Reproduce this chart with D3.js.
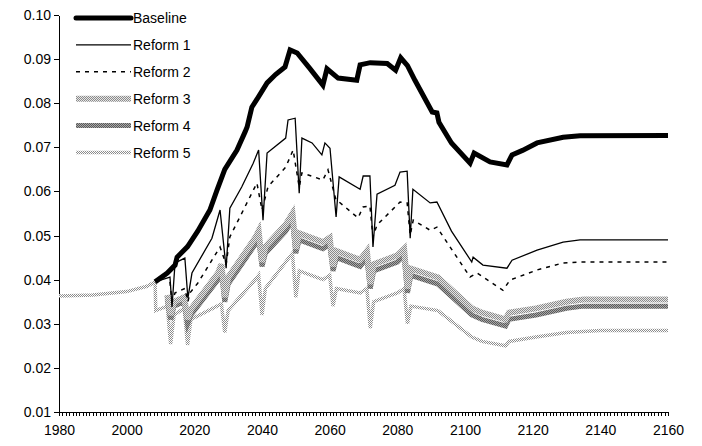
<!DOCTYPE html>
<html><head><meta charset="utf-8">
<script src="https://cdn.jsdelivr.net/npm/d3@7"></script>
<style>body{margin:0;background:#fff}text{font-family:"Liberation Sans",Arial,sans-serif}</style>
</head><body><svg id="c" width="702" height="446"></svg>
<script>
const seriesNames = ["Baseline","Reform 1","Reform 2","Reform 3","Reform 4","Reform 5"];
const xTicks = [1980,2000,2020,2040,2060,2080,2100,2120,2140,2160];
const yTicks = [0.01,0.02,0.03,0.04,0.05,0.06,0.07,0.08,0.09,0.10];
const baseline = [[2008.4,.0395],[2012,.0415],[2014.3,.0433],[2014.9,.0451],[2018,.0475],[2021,.051],[2024.6,.0558],[2026.7,.0603],[2029,.065],[2032.6,.0694],[2035,.0735],[2035.6,.0746],[2037,.0791],[2039,.0815],[2041.5,.0846],[2044,.0865],[2046.8,.0882],[2048.3,.0921],[2050.4,.0914],[2054,.088],[2058,.0841],[2059.2,.0878],[2062.5,.0857],[2068,.0852],[2069,.0887],[2072,.0892],[2077,.089],[2079.5,.0875],[2081,.0903],[2083,.0885],[2085.2,.0852],[2090.3,.078],[2091.7,.0778],[2092.3,.0757],[2096,.071],[2101.5,.0664],[2102.7,.0687],[2107.4,.0667],[2112.4,.066],[2113.9,.0683],[2117,.0693],[2121.3,.071],[2129,.0723],[2134,.0726],[2160,.0727]];
const reform1 = [[2008.4,.0395],[2012.8,.0406],[2013.4,.0338],[2014.3,.0438],[2017.2,.0449],[2018.1,.0358],[2019.3,.0415],[2025.2,.0494],[2027.6,.0558],[2029.4,.0426],[2030.5,.0562],[2034,.061],[2037.4,.0664],[2039,.0694],[2040.3,.0535],[2041.5,.0687],[2047,.0721],[2047.7,.0762],[2049.8,.0766],[2051,.0596],[2051.8,.0721],[2054.8,.071],[2057.7,.0683],[2058.6,.071],[2060.1,.0698],[2061.9,.0542],[2062.8,.0633],[2069,.0605],[2069.9,.0635],[2071.9,.0635],[2072.8,.0474],[2074,.0594],[2079.3,.0614],[2080.8,.0644],[2082.9,.0646],[2083.8,.0494],[2084.6,.0605],[2089.7,.0574],[2091.7,.0576],[2096,.051],[2102,.044],[2102.4,.0451],[2105.3,.0433],[2112.4,.0426],[2113.9,.0444],[2121.3,.0467],[2129,.0485],[2134,.049],[2160,.049]];
const reform2 = [[2012.8,.0395],[2013.4,.035],[2014.3,.037],[2017.2,.038],[2018.1,.035],[2018.7,.037],[2021,.0392],[2027.6,.0474],[2029.4,.0435],[2030.5,.0497],[2038.5,.0619],[2040,.0558],[2041.8,.0611],[2047,.0655],[2049.2,.0694],[2051,.061],[2051.8,.0642],[2058,.0626],[2059.5,.0649],[2061.9,.058],[2062.5,.0578],[2068.4,.054],[2069.9,.0565],[2071.9,.0567],[2072.8,.0497],[2074,.0524],[2080.8,.0576],[2082.9,.0574],[2083.8,.0501],[2084.7,.0535],[2089.7,.0512],[2091.7,.0519],[2101.5,.0406],[2103.6,.0415],[2111.2,.0376],[2113.3,.0399],[2121.3,.0422],[2129,.0438],[2134,.044],[2160,.044]];
const reform4 = [[2012,.0355],[2013,.031],[2014,.034],[2017,.035],[2018,.030],[2019,.032],[2027,.040],[2028,.042],[2029,.035],[2030,.039],[2038,.048],[2039,.0495],[2040,.043],[2041,.046],[2047,.051],[2049,.0535],[2050,.046],[2051,.049],[2058,.047],[2060,.048],[2061,.042],[2062,.045],[2069,.043],[2071,.045],[2072,.038],[2073,.042],[2080,.044],[2082,.0455],[2083,.037],[2084,.041],[2092,.039],[2102,.032],[2105,.031],[2112,.0295],[2113,.031],[2121,.032],[2130,.0335],[2135,.034],[2160,.034]];
const reform3 = [[2012,.0365],[2013,.032],[2014,.035],[2017,.036],[2018,.031],[2019,.0333],[2027,.0415],[2028,.0435],[2029,.036],[2030,.0405],[2038,.0495],[2039,.051],[2040,.044],[2041,.0475],[2047,.0525],[2049,.055],[2050,.047],[2051,.0505],[2058,.0485],[2060,.0495],[2061,.043],[2062,.0465],[2069,.0445],[2071,.0465],[2072,.039],[2073,.0435],[2080,.0455],[2082,.047],[2083,.038],[2084,.0425],[2092,.0405],[2102,.0335],[2105,.0325],[2112,.031],[2113,.0325],[2121,.0335],[2130,.035],[2135,.0355],[2160,.0355]];
const reform5 = [[1980,.0363],[1990,.0365],[2000,.0373],[2006,.0385],[2008.4,.0395],[2008.6,.033],[2012,.034],[2013,.0254],[2014,.032],[2017,.0335],[2018,.0252],[2019,.031],[2028,.0345],[2029,.028],[2030,.033],[2038,.040],[2039,.041],[2040,.032],[2041,.038],[2047,.044],[2049,.046],[2050,.036],[2051,.042],[2058,.040],[2060,.041],[2061,.034],[2062,.038],[2069,.037],[2071,.038],[2072,.029],[2073,.035],[2080,.037],[2082,.038],[2083,.030],[2084,.034],[2092,.033],[2102,.027],[2105,.026],[2112,.025],[2113,.026],[2121,.027],[2130,.028],[2140,.0285],[2160,.0285]];
const allData = [baseline,reform1,reform2,reform3,reform4,reform5];

const svg = d3.select("#c");
const x = d3.scaleLinear().domain([1980,2160]).range([59,668]);
const y = d3.scaleLinear().domain([0.01,0.10]).range([412,15]);

const defs = svg.append("defs");
function pat(id, bg, fg, size){
  const p = defs.append("pattern").attr("id",id).attr("width",size*2).attr("height",size*2).attr("patternUnits","userSpaceOnUse");
  p.append("rect").attr("width",size*2).attr("height",size*2).attr("fill",bg);
  p.append("rect").attr("width",size).attr("height",size).attr("fill",fg);
  p.append("rect").attr("x",size).attr("y",size).attr("width",size).attr("height",size).attr("fill",fg);
}
pat("p3","#e6e6e6","#8a8a8a",1);
pat("p4","#a8a8a8","#5a5a5a",1);
pat("p5","#ffffff","#8c8c8c",1);

const styles = [
  {stroke:"#000",w:5},
  {stroke:"#000",w:1.3},
  {stroke:"#000",w:1.5,dash:"4,5"},
  {stroke:"url(#p3)",w:6},
  {stroke:"url(#p4)",w:5},
  {stroke:"url(#p5)",w:3.5}
];

// axes
const yAxis = svg.append("g").attr("transform","translate(59,0)")
  .call(d3.axisLeft(y).tickValues(yTicks).tickFormat(d3.format(".2f")).tickSize(5).tickSizeOuter(0));
const xAxis = svg.append("g").attr("transform","translate(0,412)")
  .call(d3.axisBottom(x).tickValues(d3.range(1980,2161,1)).tickFormat(d=>xTicks.includes(d)?d:"").tickSize(4).tickSizeOuter(0));
[yAxis,xAxis].forEach(g=>{g.selectAll("path,line").attr("stroke","#000").attr("stroke-width",1).attr("shape-rendering","crispEdges");
  g.selectAll("text").attr("fill","#000").style("font-size","14px").style("font-family","Liberation Sans, Arial");});
yAxis.selectAll("text").attr("x",-8);
xAxis.selectAll("text").attr("y",13);

const line = d3.line().x(d=>x(d[0])).y(d=>y(d[1]));
const order=[5,4,3,2,1,0];
order.forEach(i=>{
  const s=styles[i];
  svg.append("path").datum(allData[i]).attr("d",line).attr("fill","none")
    .attr("stroke",s.stroke).attr("stroke-width",s.w).attr("stroke-linejoin","miter").attr("stroke-dasharray",s.dash||null);
});

// legend
seriesNames.forEach((n,i)=>{
  const yy = 18 + i*26.9;
  const s = styles[i];
  svg.append("line").attr("x1",76).attr("x2",131).attr("y1",yy).attr("y2",yy)
    .attr("stroke",s.stroke).attr("stroke-width",s.w).attr("stroke-dasharray",s.dash||null)
    .attr("stroke-linecap",i===0?"round":"butt");
  svg.append("text").attr("x",133).attr("y",yy+5).text(n).style("font-size","14px").attr("fill","#000");
});
</script></body></html>
